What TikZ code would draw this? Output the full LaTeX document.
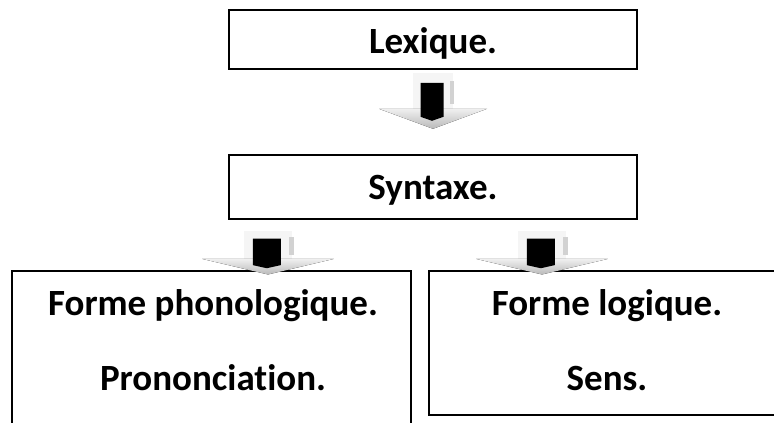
\documentclass[tikz,border=0pt]{standalone}
\usepackage{fontspec}
\setmainfont{Carlito}[Ligatures={NoCommon}, Contextuals={NoAlternate}]
\usetikzlibrary{calc}

\tikzset{
  stagebox/.style={draw=black, line width=1.6pt, fill=white, inner sep=0pt},
  stagetext/.style={font=\bfseries\fontsize{37}{44}\selectfont, inner sep=0pt, anchor=base},
  shaftfill/.style={fill=gray!8, draw=none},
  headfill/.style={top color=gray!12, bottom color=gray!55, draw=none},
  edgestrip/.style={fill=gray!35, draw=none},
  coreblock/.style={fill=black, draw=none}
}

% A bevelled block arrow pointing down; its top centre sits at the origin of the scope
\newcommand{\blockarrow}[2]{%
  \begin{scope}[shift={#1}, #2]
    \fill[shaftfill] (-20,0) rectangle (20,36);
    \fill[headfill] (-54,36) -- (54,36) -- (0,56) -- cycle;
    \fill[edgestrip] (17,8) rectangle (21,31);
    \fill[coreblock] (-12.5,10) -- (10.5,10) -- (10.5,44) -- (-1,48) -- (-12.5,44) -- cycle;
  \end{scope}%
}

\begin{document}
\begin{tikzpicture}[x=1pt, y=-1pt]
  \useasboundingbox (0,0) rectangle (774,423);
  \clip (0,0) rectangle (774,423);

  % stage boxes
  \node[stagebox, minimum width=408pt, minimum height=59pt] (lex) at (433,39.5) {};
  \node[stagebox, minimum width=408pt, minimum height=64pt] (syn) at (433,187) {};
  \node[stagebox, minimum width=399pt, minimum height=170pt] (pf) at (211.5,356) {};
  \node[stagebox, minimum width=361pt, minimum height=144pt] (lf) at (609.5,343) {};

  % labels
  \node[stagetext] (lexT) at ($(lex.north)+(0,44)$) {Lexique.};
  \node[stagetext] (synT) at ($(syn.north)+(0,45)$) {Syntaxe.};
  \node[stagetext] (pfA) at (213,315) {Forme phonologique.};
  \node[stagetext] (pfB) at (213,390) {Prononciation.};
  \node[stagetext] (lfA) at (607,315) {Forme logique.};
  \node[stagetext] (lfB) at (607,390) {Sens.};

  % arrows between the stages
  \coordinate (a1) at ($(lex.south)+(0,3)$);
  \coordinate (a2) at ($(syn.south)+(-165,11)$);
  \coordinate (a3) at ($(syn.south)+(109,11)$);
  \blockarrow{(a1)}{}
  \blockarrow{(a2)}{xscale=1.22, yscale=0.78}
  \blockarrow{(a3)}{xscale=1.22, yscale=0.78}
\end{tikzpicture}
\end{document}
